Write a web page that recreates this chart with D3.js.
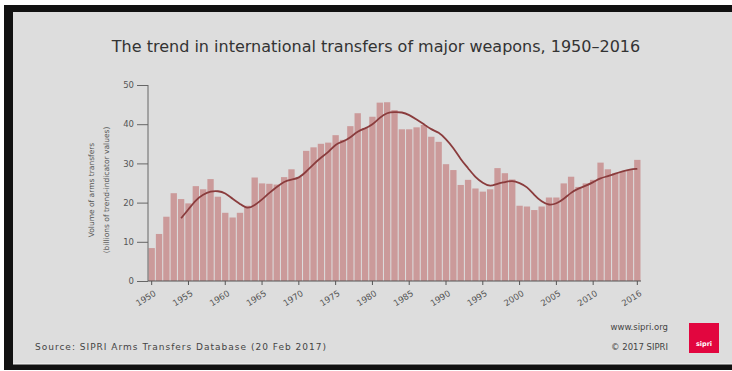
<!DOCTYPE html>
<html><head><meta charset="utf-8">
<script src="https://cdn.jsdelivr.net/npm/d3@7/dist/d3.min.js"></script>
<style>html,body{margin:0;padding:0;background:#fff;}svg{display:block;}</style>
</head><body>
<script>
const years = d3.range(1950, 2017);
const values = [8.4,12.0,16.4,22.4,20.9,19.8,24.2,23.4,26.0,21.5,
  17.4,16.2,17.4,19.2,26.4,24.9,24.8,24.6,26.5,28.5,
  26.5,33.2,34.1,35.0,35.3,37.2,36.0,39.5,42.8,39.0,
  41.9,45.5,45.6,43.6,38.7,38.7,39.2,39.8,36.8,35.5,
  29.8,28.3,24.5,25.8,23.6,22.8,23.4,28.8,27.5,25.9,
  19.2,19.0,18.1,19.0,21.3,21.3,24.9,26.6,24.0,24.9,
  25.8,30.2,28.5,27.5,27.9,28.3,30.9];
const trendYears = d3.range(1954, 2017);
const trendValues = [16.0,18.3,20.7,22.1,22.9,23.0,22.5,20.9,19.7,18.3,
  19.3,20.8,22.5,24.0,25.4,25.9,26.2,27.9,29.8,31.5,
  32.8,35.0,35.5,36.6,38.2,38.9,39.8,41.7,43.0,43.1,
  43.1,42.4,41.2,40.0,38.6,38.0,36.2,34.0,31.0,28.8,
  26.4,25.0,24.0,24.9,25.2,25.7,25.0,24.1,21.9,20.2,
  19.3,19.7,20.9,22.6,23.6,24.3,25.2,26.3,26.7,27.4,
  28.0,28.5,28.6];
const xTickYears = [1950,1955,1960,1965,1970,1975,1980,1985,1990,1995,2000,2005,2010,2016];
const yTicks = [0,10,20,30,40,50];
const title = "The trend in international transfers of major weapons, 1950\u20132016";
const yTitle1 = "Volume of arms transfers";
const yTitle2 = "(billions of trend-indicator values)";
const source = "Source: SIPRI Arms Transfers Database (20 Feb 2017)";

const W = 732, H = 371;
const svg = d3.select("body").append("svg").attr("width", W).attr("height", H);
const font = "DejaVu Sans, Verdana, sans-serif";

// background & frame
svg.append("rect").attr("width", W).attr("height", H).attr("fill", "#ffffff");
svg.append("rect").attr("x", 4).attr("y", 5).attr("width", W).attr("height", 365).attr("fill", "#111");
svg.append("rect").attr("x", 13).attr("y", 12).attr("width", W - 13).attr("height", 352).attr("fill", "#dddddd");
svg.append("line").attr("x1", 13).attr("x2", W).attr("y1", 364).attr("y2", 364).attr("stroke", "#f2f2f2").attr("stroke-width", 1);

const x = d3.scaleBand().domain(years).range([148, 641]).paddingInner(0.14).paddingOuter(0.07);
const y = d3.scaleLinear().domain([0, 50]).range([281, 85]);

// title
svg.append("text").attr("x", 376).attr("y", 52).attr("text-anchor", "middle")
  .attr("font-family", font).attr("font-size", 16).attr("fill", "#333").text(title);

// bars
svg.append("g").selectAll("rect").data(values).join("rect")
  .attr("x", (d, i) => x(years[i]))
  .attr("width", x.bandwidth())
  .attr("y", d => y(d))
  .attr("height", d => y(0) - y(d))
  .attr("fill", "#cb9a9a");

// trend line
const line = d3.line().x((d, i) => x(trendYears[i]) + x.bandwidth() / 2).y(d => y(d)).curve(d3.curveBasis);
svg.append("path").datum(trendValues).attr("d", line).attr("fill", "none")
  .attr("stroke", "#8a3c3d").attr("stroke-width", 1.8);

// y axis
const yAxis = d3.axisLeft(y).tickValues(yTicks).tickSize(11).tickPadding(3);
const gy = svg.append("g").attr("transform", "translate(148,0)").call(yAxis);
gy.select(".domain").attr("stroke", "#666").attr("d", `M0,${y(50)}V${y(0)}`);
gy.selectAll(".tick line").attr("stroke", "#666");
gy.selectAll(".tick text").attr("font-family", font).attr("font-size", 8.5).attr("fill", "#555");

// x axis
const xAxis = d3.axisBottom(x).tickValues(xTickYears).tickSize(4).tickFormat(d3.format("d"));
const gx = svg.append("g").attr("transform", "translate(0,281)").call(xAxis);
gx.select(".domain").attr("stroke", "#555").attr("d", `M148,0H641`);
gx.selectAll(".tick line").attr("stroke", "#555");
gx.selectAll(".tick text").attr("font-family", font).attr("font-size", 8.5).attr("fill", "#555")
  .attr("text-anchor", "end").attr("dy", null).attr("y", 0)
  .attr("transform", "translate(5,14) rotate(-32)");

// y title
svg.append("text").attr("transform", "translate(94,190) rotate(-90)").attr("text-anchor", "middle")
  .attr("font-family", font).attr("font-size", 7.5).attr("fill", "#555").text(yTitle1);
svg.append("text").attr("transform", "translate(109,190) rotate(-90)").attr("text-anchor", "middle")
  .attr("font-family", font).attr("font-size", 7.5).attr("fill", "#555").text(yTitle2);

// footer
svg.append("text").attr("x", 35).attr("y", 350).attr("font-family", font).attr("font-size", 9)
  .attr("letter-spacing", 1.0).attr("fill", "#444").text(source);
svg.append("text").attr("x", 668).attr("y", 330).attr("text-anchor", "end").attr("font-family", font)
  .attr("font-size", 8.5).attr("fill", "#444").text("www.sipri.org");
svg.append("text").attr("x", 668).attr("y", 350).attr("text-anchor", "end").attr("font-family", font)
  .attr("font-size", 8.5).attr("fill", "#444").text("\u00a9 2017 SIPRI");
svg.append("rect").attr("x", 689).attr("y", 323).attr("width", 30).attr("height", 30).attr("fill", "#e2063f");
svg.append("text").attr("x", 704).attr("y", 346).attr("text-anchor", "middle").attr("font-family", font)
  .attr("font-size", 6.5).attr("font-weight", "bold").attr("fill", "#fff").text("sipri");
</script>
</body></html>
